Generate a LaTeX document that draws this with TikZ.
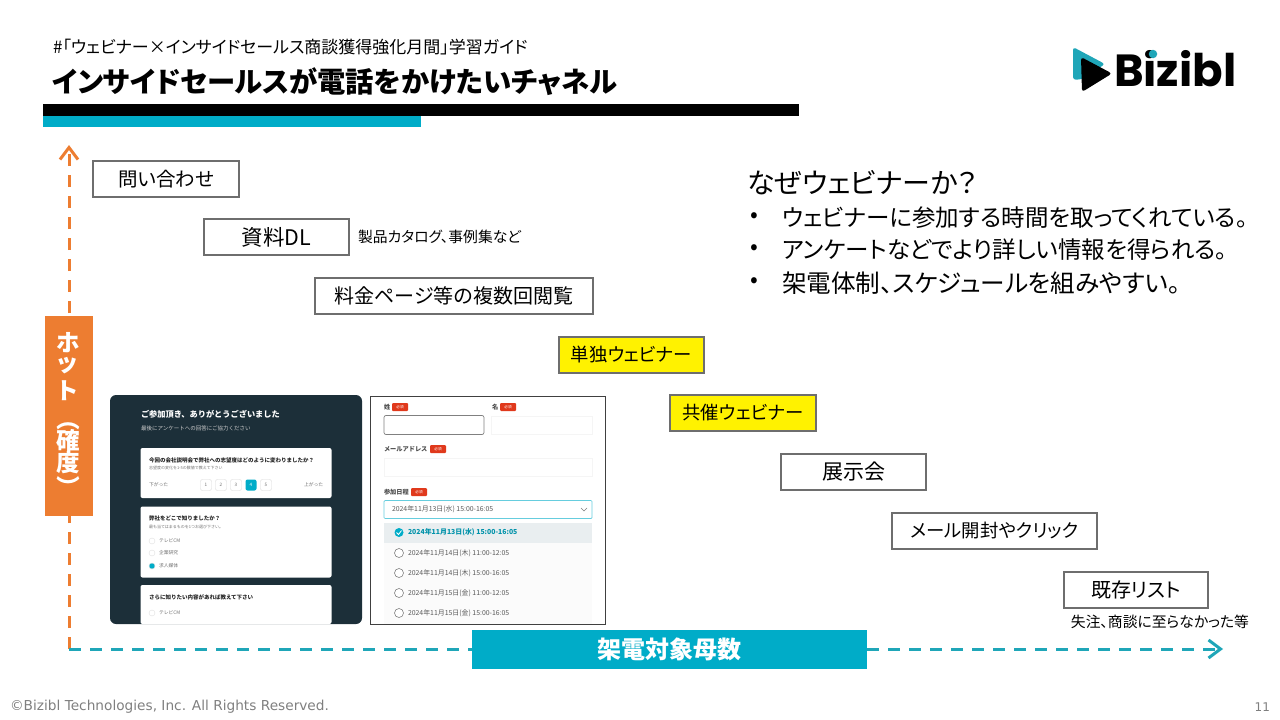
\documentclass[tikz,border=0pt]{standalone}
\usepackage{fontspec}
\setmainfont[RawFeature=+palt]{Noto Sans CJK JP}
\newfontfamily\shotfont{Noto Sans CJK JP}
\newfontfamily\footfont{DejaVu Sans}
\newfontfamily\logofont{Poppins}
\usepackage{xcolor}
\usetikzlibrary{arrows.meta,positioning,fit,shapes.geometric}
\definecolor{BTeal}{HTML}{00ACC8}
\definecolor{BTealLine}{HTML}{1FA6B8}
\definecolor{BOrange}{HTML}{ED7D31}
\definecolor{BGrey}{HTML}{6E6E6E}
\definecolor{BNavy}{HTML}{1C2F39}
\definecolor{BRed}{HTML}{E0391C}
\definecolor{BPale}{HTML}{E9EEF0}
\definecolor{BFoot}{HTML}{7F7F7F}

\begin{document}
\begin{tikzpicture}[
  x=1pt,y=-1pt,
  every node/.style={inner sep=0pt,outer sep=0pt},
  channel/.style={draw=BGrey,line width=2.8pt,fill=white,minimum height=36pt,font=\fontsize{20}{24}\selectfont},
  kanachannel/.style={channel,font=\fontsize{18.4}{22}\selectfont},
  hotchannel/.style={kanachannel,fill=yellow},
  axisline/.style={line width=3pt,dash pattern=on 12pt off 9pt,-{Straight Barb[length=12pt,width=18pt]}},
  hotchar/.style={text=white,font=\bfseries\fontsize{23.5}{27}\selectfont},
  note/.style={font=\fontsize{14.8}{18}\selectfont,anchor=west},
  reason/.style={font=\fontsize{23.5}{28}\selectfont,anchor=west},
  bullet/.style={font=\fontsize{23}{24}\selectfont},
  card/.style={fill=white,rounded corners=2pt},
  shot/.style={font=\shotfont\bfseries\fontsize{5.5}{7}\selectfont,anchor=west,text=black!85},
  tiny/.style={font=\shotfont\fontsize{4.8}{6}\selectfont,anchor=west,text=black!55},
  tinier/.style={tiny,font=\shotfont\fontsize{4}{5}\selectfont},
  formlabel/.style={font=\shotfont\bfseries\fontsize{6.2}{8}\selectfont,anchor=west,text=black!70},
  badge/.style={fill=BRed,text=white,rounded corners=1pt,font=\shotfont\fontsize{3.6}{4}\selectfont,minimum width=16pt,minimum height=8pt},
  slot/.style={font=\shotfont\fontsize{6.9}{8}\selectfont,anchor=west,text=black!65}
]
  \useasboundingbox (0,0) rectangle (1280,720);

  % header
  \node[anchor=west,font=\fontsize{17}{20}\selectfont] (subtitle) at (53,47) {\#「ウェビナー×インサイドセールス商談獲得強化月間」学習ガイド};
  \node[anchor=west,font=\bfseries\fontsize{28.3}{34}\selectfont] (title) at (52,82) {インサイドセールスが電話をかけたいチャネル};
  \fill[black] (43,104) rectangle (799,116);
  \fill[BTeal] (43,116) rectangle (421,127);

  % logo
  \fill[BTealLine,rounded corners=3pt] (1073,47) -- (1105,64) -- (1083,79) -- (1073,80) -- cycle;
  \fill[black,rounded corners=3pt] (1081,57) -- (1112,73.5) -- (1082,92) -- cycle;
  \node[anchor=west,font=\logofont\bfseries\fontsize{45}{50}\selectfont] (logo) at (1114,69) {Bizibl};
  \node[circle,fill=BTealLine,minimum size=8.5pt] (logodot) at (1153,54) {};

  % axes
  \coordinate (origin) at (69,649);
  \coordinate (hottop) at (69,145);
  \coordinate (wideend) at (1223,649);
  \draw[axisline,color=BOrange] (origin) -- (hottop);
  \draw[axisline,color=BTealLine] (origin) -- (wideend);
  \node[fill=BOrange,minimum width=48pt,minimum height=200pt] (hotlabel) at (69,416) {};
  \foreach \c/\y in {ホ/343,ッ/366,ト/391,確/441,度/463} {
    \node[hotchar] at (68,\y) {\c};
  }
  \node[hotchar,rotate=-90] (hotopen) at (68,424) {（};
  \node[hotchar,rotate=-90] (hotclose) at (68,482) {）};
  \node[fill=BTeal,minimum width=395pt,minimum height=39pt,text=white,font=\bfseries\fontsize{24}{28}\selectfont] (widelabel) at (669.5,649) {架電対象母数};

  % channels
  \node[kanachannel,minimum width=146pt,font=\fontsize{19.5}{24}\selectfont] (inquiry) at (166,179) {問い合わせ};
  \node[channel,minimum width=145pt,font=\fontsize{21.5}{24}\selectfont] (download) at (276.5,237) {資料DL};
  \node[channel,minimum width=278pt] (pricing) at (454,296) {料金ページ等の複数回閲覧};
  \node[hotchannel,minimum width=145pt] (solo) at (631.5,355) {単独ウェビナー};
  \node[hotchannel,minimum width=146pt] (joint) at (743,413) {共催ウェビナー};
  \node[channel,minimum width=145pt,font=\fontsize{21}{24}\selectfont] (expo) at (853.5,472) {展示会};
  \node[kanachannel,minimum width=205pt] (mail) at (994.5,531) {メール開封やクリック};
  \node[channel,minimum width=144pt] (existing) at (1136,590) {既存リスト};
  \node[note] (downloadnote) at (358,237) {製品カタログ、事例集など};
  \node[note,anchor=center] (existingnote) at (1160,622) {失注、商談に至らなかった等};

  % reasons
  \node[reason,font=\fontsize{28}{34}\selectfont] (why) at (747,183) {なぜウェビナーか？};
  \node[reason] (reasona) at (782,218) {ウェビナーに参加する時間を取ってくれている。};
  \node[reason] (reasonb) at (782,250) {アンケートなどでより詳しい情報を得られる。};
  \node[reason,font=\fontsize{24.6}{28}\selectfont] (reasonc) at (782,283) {架電体制、スケジュールを組みやすい。};
  \coordinate (bulletcol) at (754,0);
  \foreach \r in {reasona,reasonb,reasonc} {\node[bullet] at (bulletcol |- \r) {•};}

  % survey screenshot
  \fill[BNavy,rounded corners=6pt] (110,395) rectangle (362,624);
  \node[shot,text=white,font=\shotfont\bfseries\fontsize{8.2}{10}\selectfont] (thanks) at (141,414) {ご参加頂き、ありがとうございました};
  \node[tiny,text=white!80!black,font=\shotfont\fontsize{5.5}{7}\selectfont] (thanksub) at (141,428) {最後にアンケートへの回答にご協力ください};
  \node[card,minimum width=191pt,minimum height=50pt] (carda) at (236,473) {};
  \node[shot] (qa) at (149,460) {今回の会社説明会で弊社への志望度はどのように変わりましたか？};
  \node[tinier] (qasub) at (149,468) {志望度の変化を1-5の数値で教えて下さい};
  \node[tiny] (low) at (149,485) {下がった};
  \node[tiny] (high) at (304,485) {上がった};
  \foreach \n/\x in {1/206,2/221,3/236,5/266} {
    \node[draw=black!15,rounded corners=2pt,minimum width=11pt,minimum height=11pt,text=black!55,font=\fontsize{4.6}{6}\selectfont] (score\n) at (\x,485) {\n};
  }
  \node[fill=BTeal,rounded corners=2pt,minimum width=11pt,minimum height=11pt,text=white,font=\fontsize{4.6}{6}\selectfont] (score4) at (251,485) {4};
  \node[card,minimum width=191pt,minimum height=71pt] (cardb) at (236,542) {};
  \node[shot] (qb) at (149,518) {弊社をどこで知りましたか？};
  \node[tinier] (qbsub) at (149,527) {最も当てはまるものを1つお選び下さい。};
  \node[tiny] (tv) at (159,541) {テレビCM};
  \node[tiny] (firm) at (159,553) {企業研究};
  \node[tiny] (media) at (159,566) {求人媒体};
  \foreach \m/\y in {tv/541,firm/553} {\node[circle,draw=black!12,minimum size=6pt] (dot\m) at (152,\y) {};}
  \node[circle,fill=BTeal,draw=black!12,minimum size=6pt] (dotmedia) at (152,566) {};
  \fill[white,rounded corners=2pt] (140.5,585) rectangle (331.5,624);
  \node[shot] (qc) at (149,597) {さらに知りたい内容があれば教えて下さい};
  \node[tiny] (tvb) at (159,613) {テレビCM};
  \node[circle,draw=black!12,minimum size=6pt] (dottvb) at (152,613) {};

  % form screenshot
  \draw[black!75,fill=white,line width=1pt] (370.5,396.5) rectangle (605.5,624.5);
  \node[formlabel] (sei) at (384,407) {姓};
  \node[badge] (seibadge) at (400,407) {必須};
  \node[formlabel] (mei) at (492,407) {名};
  \node[badge] (meibadge) at (508,407) {必須};
  \draw[black!50,fill=white,rounded corners=2pt,line width=.7pt] (384,415.5) rectangle (484,434.5);
  \draw[black!4,fill=white] (491,416) rectangle (592,434);
  \node[formlabel] (address) at (384,449) {メールアドレス};
  \node[badge] (addressbadge) at (438,449) {必須};
  \draw[black!4,fill=white] (384,458) rectangle (592,476);
  \node[formlabel] (day) at (384,492) {参加日程};
  \node[badge] (daybadge) at (419,492) {必須};
  \draw[BTeal!60,fill=white,rounded corners=1pt,line width=.7pt] (384,500.5) rectangle (592,518.5);
  \node[slot] (chosen) at (392,509) {2024年11月13日(水) 15:00-16:05};
  \draw[black!50,line width=.5pt] (581,508) -- (584,511) -- (587,508);
  \fill[black!1.5] (384,523) rectangle (592,623.5);
  \fill[BPale] (384,523) rectangle (592,543);
  \node[circle,fill=BTeal,minimum size=9pt] (slotdot) at (399,532.5) {};
  \draw[white,line width=.8pt] (396.5,532.5) -- (398.5,534.5) -- (401.5,530.5);
  \node[slot,text=BTeal!85!black,font=\shotfont\bfseries\fontsize{6.9}{8}\selectfont] (slota) at (408,532.5) {2024年11月13日(水) 15:00-16:05};
  \foreach \t/\y in {2024年11月14日(木) 11:00-12:05/553,2024年11月14日(木) 15:00-16:05/573,2024年11月15日(金) 11:00-12:05/593,2024年11月15日(金) 15:00-16:05/613} {
    \node[circle,draw=black!50,fill=white,line width=.6pt,minimum size=9pt] at (399,\y) {};
    \node[slot] at (408,\y) {\t};
  }

  % footer
  \node[anchor=west,text=BFoot,font=\footfont\fontsize{13.7}{16}\selectfont] (copyright) at (10,707) {©Bizibl Technologies, Inc. All Rights Reserved.};
  \node[anchor=east,text=BFoot,font=\footfont\fontsize{12}{14}\selectfont] (page) at (1270,707) {11};
\end{tikzpicture}
\end{document}
